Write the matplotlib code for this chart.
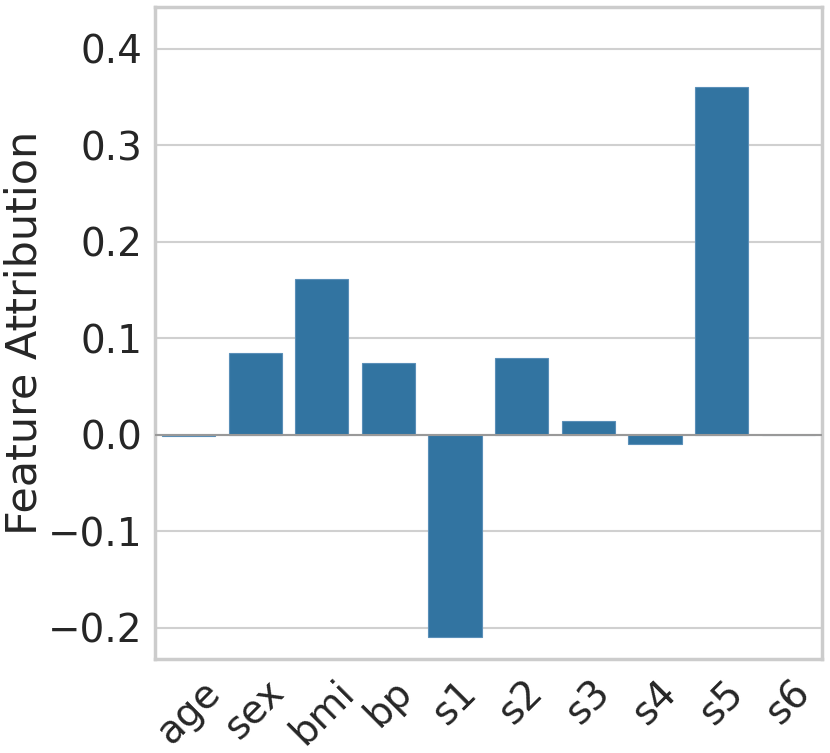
import numpy as np
import matplotlib
matplotlib.use("Agg")
import matplotlib.pyplot as plt
import seaborn as sns

features = ["age", "sex", "bmi", "bp", "s1", "s2", "s3", "s4", "s5", "s6"]
attributions = [-0.0015, 0.085, 0.162, 0.074, -0.209, 0.080, 0.0145, -0.0093, 0.360, 0.0003]

sns.set_theme(style="whitegrid", font_scale=2.5)
plt.rcParams["font.family"] = ["DejaVu Sans"]

fig = plt.figure(figsize=(8.3, 7.53), dpi=100)
ax = fig.add_axes([0.187, 0.125, 0.803, 0.866])

x = np.arange(len(features))
ax.bar(x, attributions, width=0.8, color="#3274a1", edgecolor="#5a8fb8", linewidth=0.8, zorder=3)
ax.axhline(0, color="#999999", linewidth=1.5, zorder=4)

ax.set_xlim(-0.5, len(features) - 0.5)
ax.set_ylim(-0.232, 0.4435)
ax.set_xticks(x)
ax.set_xticklabels(features, rotation=45)
ax.set_yticks([-0.2, -0.1, 0.0, 0.1, 0.2, 0.3, 0.4])
ax.set_yticklabels(["\u22120.2", "\u22120.1", "0.0", "0.1", "0.2", "0.3", "0.4"])
ax.set_ylabel("Feature Attribution", fontsize=31)
ax.yaxis.set_label_coords(-0.165, 0.5)
ax.tick_params(axis="both", labelsize=28, colors="#262626")
ax.tick_params(axis="x", pad=4)
ax.grid(axis="x", visible=False)
ax.grid(axis="y", color="#d0d0d0", linewidth=1.5)
for s in ax.spines.values():
    s.set_color("#cccccc")
    s.set_linewidth(2.5)

fig.savefig("out.png", dpi=100)
